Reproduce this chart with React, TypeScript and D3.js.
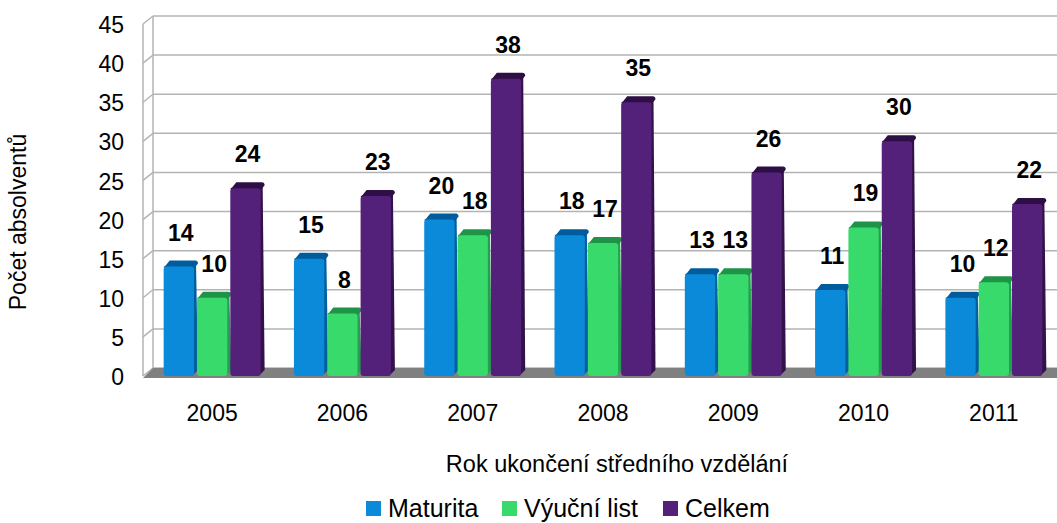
import * as d3 from "d3";
import { useEffect, useRef } from "react";

// Chart data
const years = ["2005", "2006", "2007", "2008", "2009", "2010", "2011"];
const seriesNames = ["Maturita", "Výuční list", "Celkem"];
const maturita = [14, 15, 20, 18, 13, 11, 10];
const vyucniList = [10, 8, 18, 17, 13, 19, 12];
const celkem = [24, 23, 38, 35, 26, 30, 22];
const yTicks = [0, 5, 10, 15, 20, 25, 30, 35, 40, 45];

const seriesValues = [maturita, vyucniList, celkem];

interface BarDatum {
    year: string;
    series: string;
    value: number;
}

const colors: Record<string, { front: string; top: string; side: string }> = {
    "Maturita": { front: "#0a8ad9", top: "#005c9c", side: "#00609f" },
    "Výuční list": { front: "#38da6c", top: "#1f9447", side: "#23a04f" },
    "Celkem": { front: "#54217a", top: "#2e0f45", side: "#33124b" },
};

function Chart({ width, height }: { width: number; height: number }) {
    const ref = useRef<SVGSVGElement>(null);

    useEffect(() => {
        const svg = d3.select(ref.current);
        svg.selectAll("*").remove();

        const font = "'Liberation Sans', Arial, sans-serif";
        const depth = { dx: 10, dy: -8 }; // offset of the back wall
        const frontLeft = 143;

        const data: BarDatum[] = years.flatMap((year, i) =>
            seriesNames.map((series, s) => ({ year, series, value: seriesValues[s][i] }))
        );

        // Scales
        const y = d3.scaleLinear().domain([0, 45]).range([376, 24]);
        const x0 = d3.scaleBand().domain(years).range([147, 1059]).padding(0);
        const x1 = d3.scaleBand()
            .domain(seriesNames)
            .range([0, x0.bandwidth()])
            .paddingInner(0.09)
            .paddingOuter(0.5);

        const g = svg.append("g");

        // Back wall gridlines
        g.append("g")
            .selectAll("line")
            .data(yTicks)
            .join("line")
            .attr("x1", frontLeft + depth.dx)
            .attr("x2", width)
            .attr("y1", (d) => y(d) + depth.dy)
            .attr("y2", (d) => y(d) + depth.dy)
            .attr("stroke", "#b3b3b3")
            .attr("stroke-width", 1.5);

        // Left side wall: diagonal ticks + verticals
        g.append("g")
            .selectAll("line")
            .data(yTicks)
            .join("line")
            .attr("x1", frontLeft)
            .attr("x2", frontLeft + depth.dx)
            .attr("y1", (d) => y(d))
            .attr("y2", (d) => y(d) + depth.dy)
            .attr("stroke", "#b3b3b3")
            .attr("stroke-width", 1.5);
        g.append("line")
            .attr("x1", frontLeft + depth.dx).attr("x2", frontLeft + depth.dx)
            .attr("y1", y(45) + depth.dy).attr("y2", y(0) + depth.dy)
            .attr("stroke", "#b3b3b3").attr("stroke-width", 1.5);
        g.append("line")
            .attr("x1", frontLeft).attr("x2", frontLeft)
            .attr("y1", y(45)).attr("y2", y(0))
            .attr("stroke", "#b3b3b3").attr("stroke-width", 1.5);

        // Floor
        const y0 = y(0);
        g.append("path")
            .attr("d", `M${frontLeft},${y0 + 2} L${frontLeft + depth.dx},${y0 + depth.dy} L${width},${y0 + depth.dy} L${width},${y0 + 2} Z`)
            .attr("fill", "#808080");

        // Y tick labels
        g.append("g")
            .selectAll("text")
            .data(yTicks)
            .join("text")
            .attr("x", 124)
            .attr("y", (d) => y(d) + 3)
            .attr("text-anchor", "end")
            .attr("dominant-baseline", "middle")
            .attr("font-family", font)
            .attr("font-size", 23)
            .text((d) => d);

        // Bars
        const bx = (d: BarDatum) => x0(d.year)! + x1(d.series)!;
        const bw = x1.bandwidth();
        const cap = { dx: 4, dy: -6 };
        const bars = g.append("g")
            .selectAll("g")
            .data(data)
            .join("g");

        // right side
        bars.append("path")
            .attr("d", (d) => {
                const x = bx(d) + bw, top = y(d.value);
                return `M${x - 2},${top} L${x - 2 + cap.dx},${top + cap.dy} L${x + cap.dx},${y0 - 6} L${x - 2},${y0}Z`;
            })
            .attr("fill", (d) => colors[d.series].side);
        // top cap
        bars.append("path")
            .attr("d", (d) => {
                const x = bx(d), top = y(d.value);
                return `M${x},${top + 1} Q${x},${top} ${x + 2},${top - 1} L${x + cap.dx + 2},${top + cap.dy} L${x + bw + cap.dx - 3},${top + cap.dy} Q${x + bw + cap.dx},${top + cap.dy} ${x + bw + cap.dx},${top + cap.dy + 3} L${x + bw},${top + 2} Z`;
            })
            .attr("fill", (d) => colors[d.series].top);
        // front face
        bars.append("rect")
            .attr("x", (d) => bx(d))
            .attr("y", (d) => y(d.value))
            .attr("width", bw)
            .attr("height", (d) => y0 - y(d.value))
            .attr("rx", 3)
            .attr("fill", (d) => colors[d.series].front);

        // Value labels
        g.append("g")
            .selectAll("text")
            .data(data)
            .join("text")
            .attr("x", (d) => bx(d) + bw / 2 + 2)
            .attr("y", (d) => y(d.value) - 32)
            .attr("text-anchor", "middle")
            .attr("dominant-baseline", "middle")
            .attr("font-family", font)
            .attr("font-size", 23)
            .attr("font-weight", "bold")
            .text((d) => d.value);

        // X category labels
        g.append("g")
            .selectAll("text")
            .data(years)
            .join("text")
            .attr("x", (d) => x0(d)! + x0.bandwidth() / 2)
            .attr("y", 415)
            .attr("text-anchor", "middle")
            .attr("dominant-baseline", "middle")
            .attr("font-family", font)
            .attr("font-size", 23)
            .text((d) => d);

        // Axis titles
        g.append("text")
            .attr("x", 617)
            .attr("y", 466)
            .attr("text-anchor", "middle")
            .attr("dominant-baseline", "middle")
            .attr("font-family", font)
            .attr("font-size", 23.5)
            .text("Rok ukončení středního vzdělání");

        g.append("text")
            .attr("transform", "translate(20,222) rotate(-90)")
            .attr("text-anchor", "middle")
            .attr("dominant-baseline", "middle")
            .attr("font-family", font)
            .attr("font-size", 23)
            .text("Počet absolventů");

        // Legend
        const legendX = [366, 502, 663];
        const legend = g.append("g")
            .selectAll("g")
            .data(seriesNames)
            .join("g")
            .attr("transform", (d, i) => `translate(${legendX[i]},509)`);
        legend.append("rect")
            .attr("x", 0)
            .attr("y", -8)
            .attr("width", 15)
            .attr("height", 15)
            .attr("fill", (d) => colors[d].front);
        legend.append("text")
            .attr("x", 22)
            .attr("y", 1)
            .attr("dominant-baseline", "middle")
            .attr("font-family", font)
            .attr("font-size", 25)
            .text((d) => d);
    }, [width, height]);

    return (
        <svg
            ref={ref}
            width={width}
            height={height}
            style={{ position: "absolute", left: 0, top: 0, background: "#fff" }}
        />
    );
}

export default function App() {
    return <Chart width={1057} height={523} />;
}
